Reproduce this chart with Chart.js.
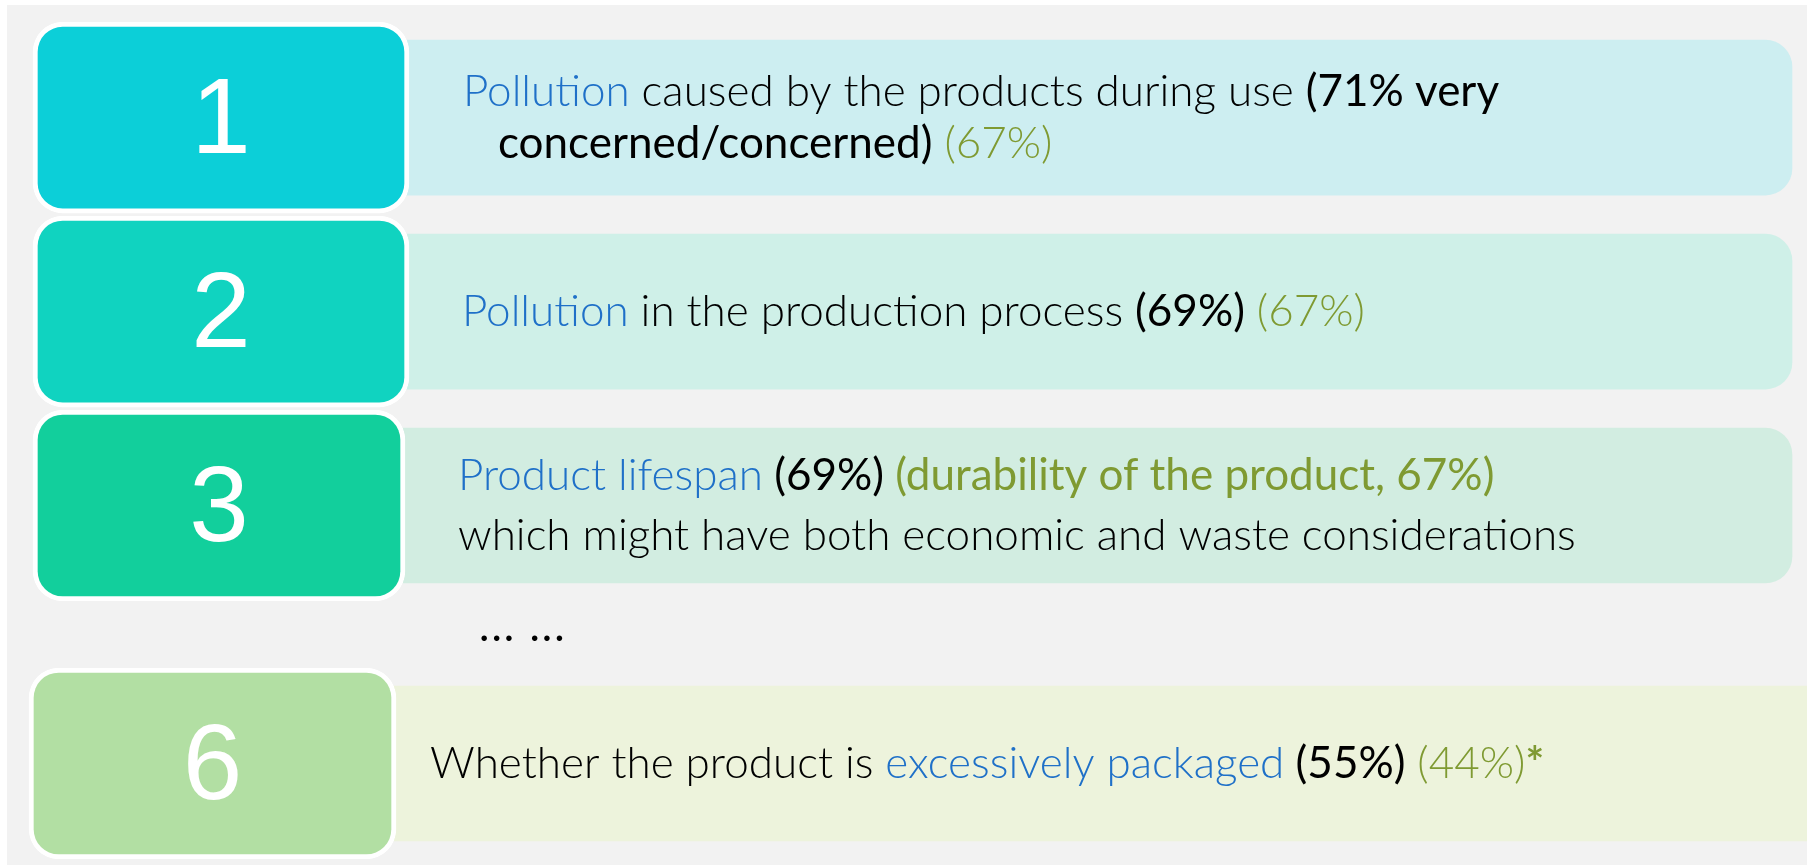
<!DOCTYPE html>
<html>
<head>
<meta charset="utf-8">
<script src="https://cdn.jsdelivr.net/npm/chart.js@4.4.1/dist/chart.umd.min.js"></script>
<style>
html,body{margin:0;padding:0;background:#fff;overflow:hidden}
</style>
</head>
<body>
<canvas id="ranking" width="1807" height="865"></canvas>
<script>
// Data
const ranks = [1, 2, 3, 6];
const topics = ["Pollution", "Pollution", "Product lifespan", "excessively packaged"];
const concernedPct = [71, 69, 69, 55];
const earlierPct = [67, 67, 67, 44];

// Colours
const boxColors = ["#0ccfd8", "#10d3c0", "#12cf9c", "#b2dfa3"];
const panelColors = ["#cdeef1", "#cff0e8", "#d2ede1", "#edf3dc"];
const BLUE = "#1f70c8", GREEN = "#7f9a32", BLACK = "#000";
const FONT = "Lato";
const SIZE = 44;

// Layout (px across the canvas)
const boxLeft = [33, 33, 33, 29], boxRight = [409, 409, 405, 396];
const panelRight = [1792, 1792, 1792, 1840];
const textX = [463, 462, 458, 430];
const lineGap = [52, 0, 60, 0];

// a skipped rank leaves room for the "… …" line
const slots = [];
ranks.forEach((r, i) => slots.push(i === 0 ? 0 : slots[i-1] + (r - ranks[i-1] > 1 ? 1.33 : 1)));

// text of each panel: lines of [text, colour, weight]
const descriptions = [
  [
    {indent:0, segs:[[topics[0], BLUE, 300], [" caused by the products during use ", BLACK, 300], ["(" + concernedPct[0] + "% very", BLACK, 400]]},
    {indent:35, segs:[["concerned/concerned)", BLACK, 400], [" (" + earlierPct[0] + "%)", GREEN, 300]]}
  ],
  [
    {indent:0, segs:[[topics[1], BLUE, 300], [" in the production process ", BLACK, 300], ["(" + concernedPct[1] + "%)", BLACK, 400], [" (" + earlierPct[1] + "%)", GREEN, 300]]}
  ],
  [
    {indent:0, segs:[[topics[2], BLUE, 300], [" (" + concernedPct[2] + "%)", BLACK, 400], [" (durability of the product, " + earlierPct[2] + "%)", GREEN, 400]]},
    {indent:0, segs:[["which might have both economic and waste considerations", BLACK, 300]]}
  ],
  [
    {indent:0, segs:[["Whether the product is ", BLACK, 300], [topics[3], BLUE, 300], [" (" + concernedPct[3] + "%)", BLACK, 400], [" (" + earlierPct[3] + "%)", GREEN, 300], ["*", GREEN, 700]]}
  ]
];

const backdrop = {
  id: "backdrop",
  beforeDraw(chart){
    const ctx = chart.ctx;
    ctx.save();
    ctx.fillStyle = "#fff";
    ctx.fillRect(0, 0, chart.width, chart.height);
    ctx.fillStyle = "#f2f2f2";
    ctx.fillRect(7, 5, chart.width - 7, chart.height - 5);
    ctx.restore();
  }
};

const labels = {
  id: "labels",
  afterDatasetsDraw(chart){
    const ctx = chart.ctx;
    const boxes = chart.getDatasetMeta(1).data;
    const panels = chart.getDatasetMeta(0).data;
    ctx.save();
    ctx.textBaseline = "alphabetic";
    // rank numbers
    ctx.fillStyle = "#fff";
    ctx.textAlign = "center";
    ctx.font = "107px 'Liberation Sans', Arial, sans-serif";
    boxes.forEach((el, i) => {
      ctx.fillText(String(ranks[i]), (el.x + el.base) / 2, el.y + 35);
    });
    // descriptions
    ctx.textAlign = "left";
    panels.forEach((el, i) => {
      const lines = descriptions[i];
      let y = el.y + 14 - lineGap[i] * (lines.length - 1) / 2;
      lines.forEach(line => {
        let x = textX[i] + line.indent;
        line.segs.forEach(([t, c, w]) => {
          ctx.font = w + " " + SIZE + "px " + FONT;
          ctx.fillStyle = c;
          ctx.fillText(t, x, y);
          x += ctx.measureText(t).width;
        });
        y += lineGap[i];
      });
      // gap in ranks
      if (i > 0 && ranks[i] - ranks[i-1] > 1) {
        ctx.font = "400 " + SIZE + "px " + FONT;
        ctx.fillStyle = BLACK;
        ctx.letterSpacing = "2px";
        ctx.fillText("... ...", textX[i-1] + 21, (panels[i-1].y + el.y) / 2 + 6);
        ctx.letterSpacing = "0px";
      }
    });
    ctx.restore();
  }
};

new Chart(document.getElementById("ranking"), {
  type: "bar",
  data: {
    labels: ranks.map(String),
    datasets: [
      {
        label: "panel",
        data: ranks.map((r, i) => ({y: slots[i], x: [boxRight[i] - 30, panelRight[i]]})),
        backgroundColor: panelColors,
        borderWidth: 0,
        borderRadius: 27,
        borderSkipped: false,
        barThickness: 155,
        grouped: false,
        order: 2
      },
      {
        label: "rank",
        data: ranks.map((r, i) => ({y: slots[i], x: [boxLeft[i], boxRight[i]]})),
        backgroundColor: boxColors,
        borderColor: "#fff",
        borderWidth: 5,
        borderRadius: 30,
        borderSkipped: false,
        barThickness: 191,
        grouped: false,
        order: 1
      }
    ]
  },
  options: {
    indexAxis: "y",
    responsive: false,
    animation: false,
    devicePixelRatio: 1,
    layout: {padding: 0},
    scales: {
      x: {type: "linear", min: 0, max: 1807, offset: false, display: false},
      y: {type: "linear", min: -0.606, max: 3.853, reverse: true, offset: false, grace: 0, display: false}
    },
    plugins: {legend: {display: false}, tooltip: {enabled: false}}
  },
  plugins: [backdrop, labels]
});
</script>
</body>
</html>
